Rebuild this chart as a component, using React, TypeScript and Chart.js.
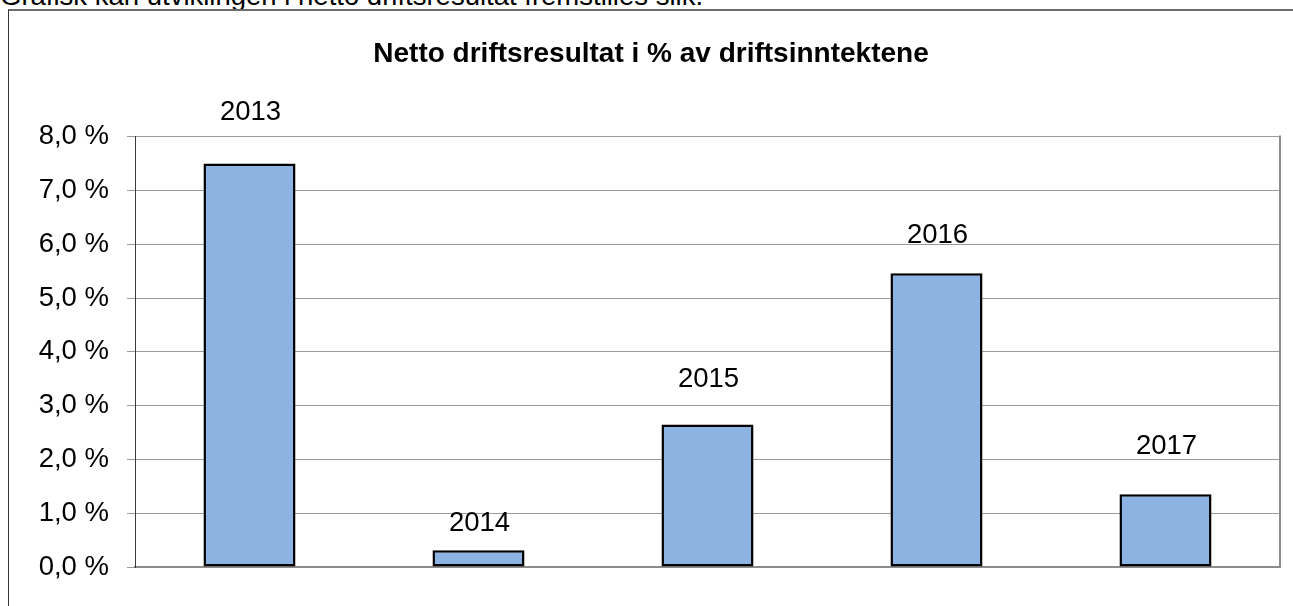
import React, { useEffect, useRef } from "react";
import { Chart, registerables } from "chart.js";

Chart.register(...registerables);

const introText = "Grafisk kan utviklingen i netto driftsresultat fremstilles slik.";
const chartTitle = "Netto driftsresultat i % av driftsinntektene";
const categories = ["2013", "2014", "2015", "2016", "2017"];
const values = [7.5, 0.31, 2.65, 5.46, 1.35];
const yMin = 0;
const yMax = 8;
const yStep = 1;
const labelLift = [51, 27, 45, 38, 48];

const FONT = "'Liberation Sans', Arial, Helvetica, sans-serif";

const frameLines = {
  id: "frameLines",
  afterDraw(chart: any) {
    const { ctx, chartArea } = chart;
    ctx.save();
    ctx.strokeStyle = "#8c8c8c";
    ctx.lineWidth = 2;
    ctx.beginPath();
    ctx.moveTo(chartArea.right, chartArea.top - 1);
    ctx.lineTo(chartArea.right, chartArea.bottom + 1);
    ctx.stroke();
    ctx.restore();
  },
};

const barLabels = {
  id: "barLabels",
  afterDatasetsDraw(chart: any) {
    const { ctx } = chart;
    const meta = chart.getDatasetMeta(0);
    ctx.save();
    ctx.font = `27.5px ${FONT}`;
    ctx.fillStyle = "#000";
    ctx.textAlign = "center";
    ctx.textBaseline = "middle";
    meta.data.forEach((bar: any, i: number) => {
      ctx.fillText(categories[i], bar.x + 1, bar.y - labelLift[i]);
    });
    ctx.restore();
  },
};

export default function App() {
  const canvasRef = useRef<HTMLCanvasElement | null>(null);

  useEffect(() => {
    if (!canvasRef.current) return;
    const chart = new Chart(canvasRef.current, {
      type: "bar",
      data: {
        labels: categories,
        datasets: [
          {
            data: values,
            backgroundColor: "#8DB3E2",
            borderColor: "#000000",
            borderWidth: 2.5,
            borderSkipped: false,
            barPercentage: 0.402,
            categoryPercentage: 1,
          },
        ],
      },
      options: {
        responsive: false,
        animation: false,
        devicePixelRatio: 1,
        layout: { padding: { left: 22, right: 13, top: 0, bottom: 39 } },
        plugins: {
          legend: { display: false },
          tooltip: { enabled: false },
          title: {
            display: true,
            text: chartTitle,
            color: "#000",
            font: { family: FONT, size: 28, weight: "bold", lineHeight: 1.2 },
            padding: { top: 37, bottom: 66 },
          },
        },
        scales: {
          x: {
            ticks: { display: false },
            grid: { display: false },
            border: { display: true, color: "#8c8c8c", width: 2 },
            afterFit: (s: any) => {
              s.height = 0;
            },
          },
          y: {
            min: yMin,
            max: yMax,
            ticks: {
              stepSize: yStep,
              color: "#000",
              padding: 18,
              font: { family: FONT, size: 27.5 },
              callback: (v: any) => `${Number(v).toFixed(1).replace(".", ",")} %`,
            },
            grid: {
              color: "#9a9a9a",
              lineWidth: 1,
              drawTicks: true,
              tickLength: 8,
            },
            border: { display: true, color: "#3a3a3a", width: 1 },
            afterFit: (s: any) => {
              s.width = 113;
            },
          },
        },
      },
      plugins: [frameLines, barLabels],
    } as any);
    return () => chart.destroy();
  }, []);

  return (
    <div
      style={{
        position: "fixed",
        left: 0,
        top: 0,
        width: 1293,
        height: 606,
        overflow: "hidden",
        background: "#fff",
      }}
    >
      <div
        style={{
          position: "absolute",
          left: 0,
          top: -18,
          fontFamily: FONT,
          fontSize: 27.5,
          lineHeight: "27.5px",
          color: "#000",
          whiteSpace: "nowrap",
        }}
      >
        {introText}
      </div>
      <div
        style={{
          position: "absolute",
          left: 8,
          top: 9,
          width: 1300,
          height: 620,
          borderTop: "2px solid #6b6b6b",
          borderLeft: "1px solid #333",
          boxSizing: "border-box",
        }}
      />
      <canvas
        ref={canvasRef}
        width={1293}
        height={606}
        style={{ position: "absolute", left: 0, top: 0, width: 1293, height: 606 }}
      />
    </div>
  );
}
